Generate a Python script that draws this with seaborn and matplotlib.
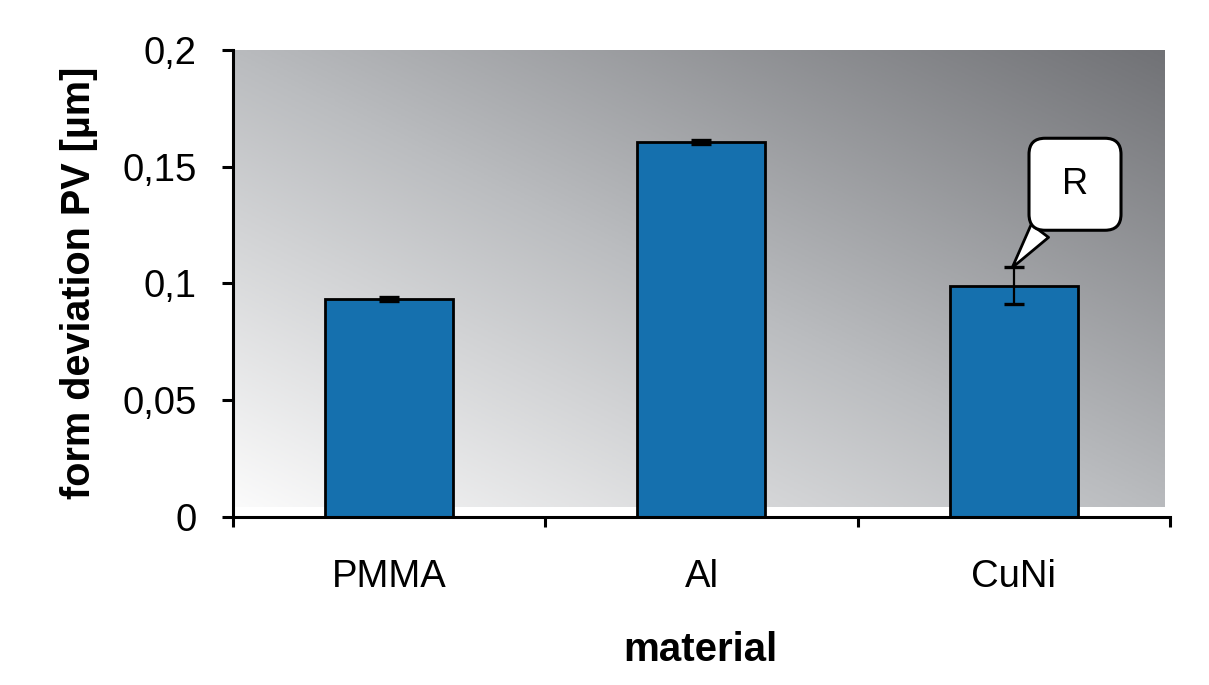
import numpy as np
import matplotlib
matplotlib.use("Agg")
import matplotlib.pyplot as plt
import seaborn as sns
from matplotlib.colors import LinearSegmentedColormap
from matplotlib.path import Path

materials = ["PMMA", "Al", "CuNi"]
pv_values = [0.0934, 0.1606, 0.0990]
pv_errors = [0.0010, 0.0010, 0.0079]
y_ticks = [0, 0.05, 0.1, 0.15, 0.2]
y_tick_labels = ["0", "0,05", "0,1", "0,15", "0,2"]

sns.set_style("white")
plt.rcParams['font.family'] = ['Liberation Sans', 'DejaVu Sans']
plt.rcParams['text.color'] = 'black'
plt.rcParams['axes.labelcolor'] = 'black'
plt.rcParams['xtick.color'] = 'black'
plt.rcParams['ytick.color'] = 'black'

fig = plt.figure(figsize=(12.09, 6.85), dpi=100)
ax = fig.add_axes([0.1927, 0.2453, 0.775, 0.6817])

# gradient background (plot area fill)
n = 256
xx, yy = np.meshgrid(np.linspace(0, 1, n), np.linspace(0, 1, n))
t = (xx + yy) / 2
cmap = LinearSegmentedColormap.from_list("g", ["#fbfbfb", "#b9bbbe", "#717276"])
ax.imshow(t, extent=[-0.5, 2.481, 0.0043, 0.2], origin="lower", cmap=cmap,
          aspect="auto", zorder=0, vmin=0, vmax=1)

sns.barplot(x=materials, y=pv_values, color="#1570ae", edgecolor="black",
            linewidth=2.0, width=0.41, saturation=1, ax=ax, zorder=2)
ax.errorbar(np.arange(len(materials)), pv_values, yerr=pv_errors, fmt="none",
            ecolor="black", elinewidth=1.6, capsize=7.3, capthick=2.4, zorder=3)

ax.set_xlim(-0.5, 2.5)
ax.set_ylim(0, 0.2)
ax.set_yticks(y_ticks)
ax.set_yticklabels(y_tick_labels)
ax.set_xticks([0, 1, 2])
ax.set_xticklabels(materials)
ax.set_xticks([-0.5, 0.5, 1.5, 2.5], minor=True)
ax.tick_params(axis="x", which="major", length=0, pad=30, labelsize=27.5)
ax.tick_params(axis="x", which="minor", length=7, width=2.2, direction="out", bottom=True)
ax.tick_params(axis="y", length=8, width=2.2, direction="out", left=True, labelsize=27.5, pad=18)

for s in ["top", "right"]:
    ax.spines[s].set_visible(False)
for s in ["left", "bottom"]:
    ax.spines[s].set_color("black")
    ax.spines[s].set_linewidth(2.2)
    ax.spines[s].set_zorder(4)

ax.set_ylabel("form deviation PV [µm]", fontsize=28.5, fontweight="bold")
ax.set_xlabel("material", fontsize=29, fontweight="bold")
ax.yaxis.set_label_coords(-0.144, 0.502)
ax.xaxis.set_label_coords(0.4984, -0.244)


def callout_box(x0, y0, width, height, mutation_size, size=92, r=16):
    cx, cy = x0 + width / 2, y0 + height / 2
    h = size / 2
    L, R, B, T = cx - h, cx + h, cy - h, cy + h
    verts = [(L + r, B), (R - r, B), (R, B), (R, B + r), (R, T - r), (R, T),
             (R - r, T), (L + r, T), (L, T), (L, T - r), (L, B + r), (L, B),
             (L + r, B), (L + r, B)]
    codes = [Path.MOVETO, Path.LINETO, Path.CURVE3, Path.CURVE3, Path.LINETO,
             Path.CURVE3, Path.CURVE3, Path.LINETO, Path.CURVE3, Path.CURVE3,
             Path.LINETO, Path.CURVE3, Path.CURVE3, Path.CLOSEPOLY]
    return Path(verts, codes)


ax.annotate("R", xy=(1.995, 0.1068), xytext=(2.196, 0.1425), fontsize=26,
            ha="center", va="center",
            bbox=dict(boxstyle=callout_box, fc="white", ec="black", lw=2.2),
            arrowprops=dict(arrowstyle="wedge,tail_width=0.6", fc="white", ec="black", lw=2.0,
                            shrinkA=0, shrinkB=0),
            zorder=5)

fig.savefig("out.png", dpi=100)
